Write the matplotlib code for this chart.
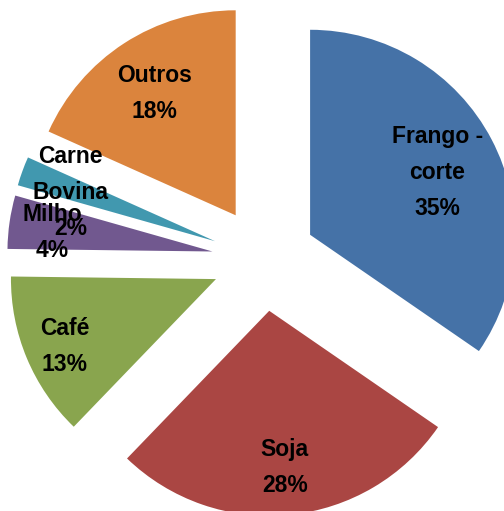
import matplotlib
matplotlib.use("Agg")
import matplotlib.pyplot as plt
import numpy as np

labels = ["Frango -\ncorte", "Soja", "Café", "Milho", "Carne\nBovina", "Outros"]
values = [34.6, 27.6, 13.0, 4.2, 2.3, 18.3]
colors = ["#4572A7", "#AA4643", "#89A54E", "#71588F", "#4198AF", "#DB843D"]
label_dist = [0.70, 0.75, 0.80, 0.79, 0.75, 0.73]

plt.rcParams['font.family'] = ['Liberation Sans', 'DejaVu Sans']

fig = plt.figure(figsize=(5.04, 5.11), dpi=100)
ax = fig.add_axes([0, 0, 1, 1])

wedges, _ = ax.pie(values, colors=colors, startangle=90, counterclock=False,
                   explode=[0.254] * len(values), radius=1.0,
                   wedgeprops=dict(linewidth=0))

# labels: "name\npct%" inside each wedge
for w, lab, v, d in zip(wedges, labels, values, label_dist):
    th = np.deg2rad((w.theta1 + w.theta2) / 2)
    cx, cy = w.center
    ax.text(cx + d * w.r * np.cos(th), cy + d * w.r * np.sin(th) - 0.02,
            f"{lab}\n{v:.0f}%", ha="center", va="center", fontsize=16.5,
            fontweight="bold", linespacing=1.72, color="black")

scale = 205.0
ax.set_xlim(-264 / scale, (504 - 264) / scale)
ax.set_ylim(-(511 - 259) / scale, 259 / scale)
ax.set_aspect("auto")
ax.axis("off")

fig.savefig("out.png", dpi=100)
